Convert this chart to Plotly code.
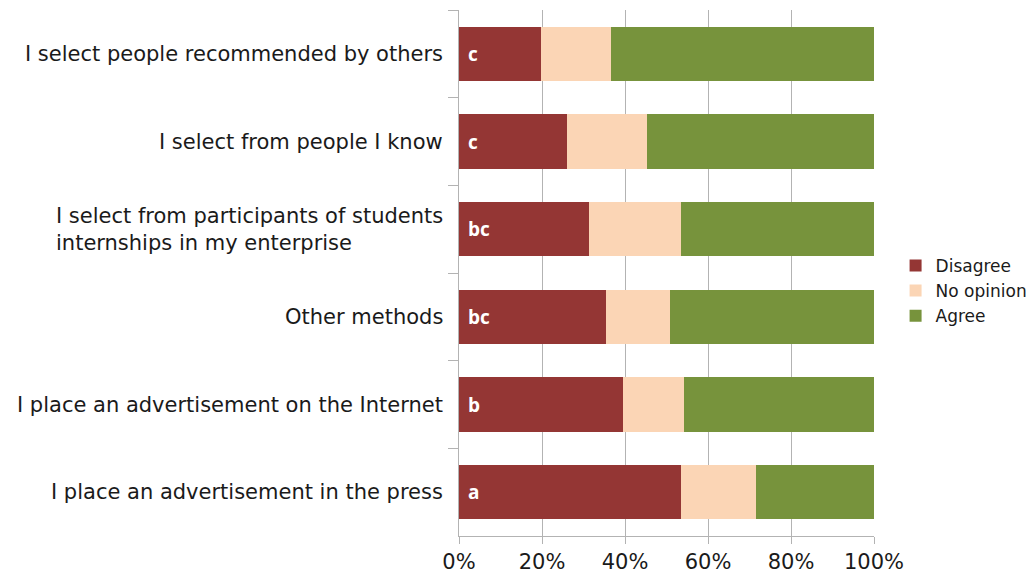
import plotly.graph_objects as go

categories = [
    "I select people recommended by others",
    "I select from people I know",
    "I select from participants of students<br>internships in my enterprise",
    "Other methods",
    "I place an advertisement on the Internet",
    "I place an advertisement in the press",
]
disagree = [19.7, 26.0, 31.3, 35.5, 39.5, 53.4]
no_opinion = [16.9, 19.4, 22.2, 15.3, 14.7, 18.1]
agree = [100 - d - n for d, n in zip(disagree, no_opinion)]
letters = ["c", "c", "bc", "bc", "b", "a"]
x_ticks = [0, 20, 40, 60, 80, 100]
x_tick_labels = ["0%", "20%", "40%", "60%", "80%", "100%"]

colors = {"Disagree": "#943634", "No opinion": "#FBD5B5", "Agree": "#77933C"}

fig = go.Figure()
for name, vals in [("Disagree", disagree), ("No opinion", no_opinion), ("Agree", agree)]:
    fig.add_trace(go.Bar(
        y=categories, x=vals, name=name, orientation="h", legendgroup=name,
        marker=dict(color=colors[name], line=dict(width=0)),
    ))

for cat, letter in zip(categories, letters):
    fig.add_annotation(
        x=0, y=cat, xref="paper", yref="y", text=cat, showarrow=False,
        xanchor="right", xshift=-14, align="left",
        font=dict(family="DejaVu Sans", size=21, color="#1a1a1a"),
    )
    fig.add_annotation(
        x=0, y=cat, xref="x", yref="y", text="<b>" + letter + "</b>", showarrow=False,
        xanchor="left", xshift=7,
        font=dict(family="Open Sans", size=19, color="white"),
    )

fig.update_layout(
    width=1028, height=566,
    barmode="stack", bargap=0.38,
    plot_bgcolor="white", paper_bgcolor="white",
    margin=dict(l=451, r=162, t=2, b=38),
    font=dict(family="DejaVu Sans", size=18, color="#1a1a1a"),
    legend=dict(
        x=1.052, y=0.466, xanchor="left", yanchor="middle",
        font=dict(family="DejaVu Sans", size=17, color="#1a1a1a"),
        traceorder="normal", itemwidth=30, tracegroupgap=3,
    ),
)
fig.update_xaxes(
    range=[0, 100], tickvals=x_ticks, ticktext=x_tick_labels,
    showgrid=True, gridcolor="#b3b3b3", gridwidth=1,
    showline=True, linecolor="#b3b3b3", linewidth=1,
    ticks="outside", ticklen=7, tickcolor="#b3b3b3",
    zeroline=False, tickfont=dict(size=21), automargin=False,
)
fig.update_yaxes(
    autorange="reversed", showticklabels=False,
    showline=True, linecolor="#b3b3b3", linewidth=1,
    ticks="outside", ticklen=10, tickcolor="#b3b3b3", tickson="boundaries",
    showgrid=False, automargin=False,
)

fig.write_html("out.html")
